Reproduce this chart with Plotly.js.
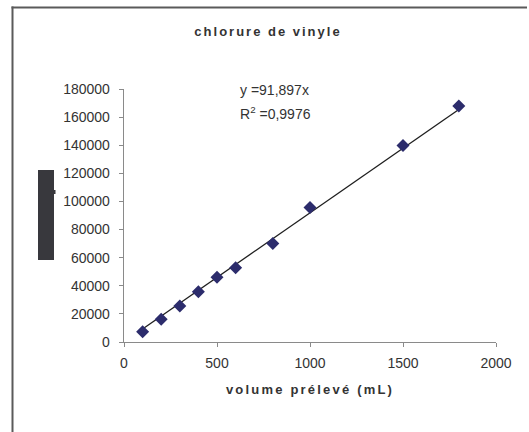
<!DOCTYPE html>
<html>
<head>
<meta charset="utf-8">
<script src="https://cdn.plot.ly/plotly-3.0.1.min.js"></script>
<style>
  html, body { margin: 0; padding: 0; background: #ffffff; overflow: hidden; }
  #chart { width: 529px; height: 432px; overflow: hidden; }
  /* spaced-out bold headings */
  .gtitle { letter-spacing: 2px; }
  .xtitle { letter-spacing: 2.2px; }
</style>
</head>
<body>
<div id="chart"></div>
<script>
// Sampled volumes (mL) and measured peak areas
const volumes = [100, 200, 300, 400, 500, 600, 800, 1000, 1500, 1800];
const areas = [7300, 16100, 25600, 35700, 46000, 52800, 70100, 95700, 139800, 167900];

// Linear fit through the origin
const slope = 91.897;
const r2 = 0.9976;
const fitX = [volumes[0], volumes[volumes.length - 1]];
const fitY = fitX.map(v => slope * v);

const chartTitle = 'chlorure de vinyle';
const xTitle = 'volume prélevé (mL)';
const xTicks = [0, 500, 1000, 1500, 2000];
const yTicks = [0, 20000, 40000, 60000, 80000, 100000, 120000, 140000, 160000, 180000];

const fmt = (n, d) => n.toFixed(d).replace('.', ',');

const W = 529, H = 432;
const M = { l: 124, r: 33, t: 89, b: 90 };
const PW = W - M.l - M.r, PH = H - M.t - M.b;
const px = x => (x - M.l) / PW;
const py = y => (H - M.b - y) / PH;

const traces = [
  {
    x: fitX, y: fitY, type: 'scatter', mode: 'lines',
    line: { color: '#1e1e1e', width: 1.3 },
    hoverinfo: 'skip', showlegend: false
  },
  {
    x: volumes, y: areas, type: 'scatter', mode: 'markers',
    marker: { symbol: 'diamond', size: 10, color: '#2c2c6c', line: { width: 0 } },
    showlegend: false
  }
];

const axisCommon = {
  showgrid: false, zeroline: false, showline: true,
  linecolor: '#8a8a8a', linewidth: 1.3,
  ticks: 'outside', ticklen: 4, tickwidth: 1, tickcolor: '#8a8a8a',
  tickfont: { family: 'Liberation Sans, Arial, sans-serif', size: 14, color: '#333333' },
  fixedrange: true
};

const frameLine = { color: '#5a5a5a', width: 2 };

const layout = {
  width: W, height: H,
  margin: M,
  paper_bgcolor: '#ffffff', plot_bgcolor: '#ffffff',
  showlegend: false,
  title: {
    text: '<b>' + chartTitle + '</b>',
    font: { family: 'Liberation Sans, Arial, sans-serif', size: 13, color: '#333333' },
    x: px(268), xanchor: 'center', xref: 'paper',
    y: 1 - 31 / H, yanchor: 'middle'
  },
  xaxis: Object.assign({}, axisCommon, {
    range: [0, 2000], tickvals: xTicks, ticktext: xTicks.map(String),
    ticklabelstandoff: 4,
    title: {
      text: '<b>' + xTitle + '</b>', standoff: 14,
      font: { family: 'Liberation Sans, Arial, sans-serif', size: 13, color: '#333333' }
    }
  }),
  yaxis: Object.assign({}, axisCommon, {
    range: [0, 180000], tickvals: yTicks, ticktext: yTicks.map(String),
    ticklabelstandoff: 6
  }),
  annotations: [
    {
      text: 'y =' + fmt(slope, 3) + 'x',
      xref: 'paper', yref: 'paper', x: px(238), y: py(90),
      xanchor: 'left', yanchor: 'middle', showarrow: false,
      font: { family: 'Liberation Sans, Arial, sans-serif', size: 14, color: '#333333' }
    },
    {
      text: 'R<sup>2</sup> =' + fmt(r2, 4),
      xref: 'paper', yref: 'paper', x: px(238), y: py(113),
      xanchor: 'left', yanchor: 'middle', showarrow: false,
      font: { family: 'Liberation Sans, Arial, sans-serif', size: 14, color: '#333333' }
    }
  ],
  shapes: [
    // chart area frame: top and left edges
    {
      type: 'line', xref: 'paper', yref: 'paper',
      x0: px(11.5), x1: px(527), y0: py(7.5), y1: py(7.5), line: frameLine
    },
    {
      type: 'line', xref: 'paper', yref: 'paper',
      x0: px(12.5), x1: px(12.5), y0: py(6.5), y1: py(432), line: frameLine
    },
    // masked axis title block
    {
      type: 'rect', xref: 'paper', yref: 'paper',
      x0: px(38), x1: px(54), y0: py(260), y1: py(170),
      line: { width: 0 }, fillcolor: '#38383d'
    },
    {
      type: 'rect', xref: 'paper', yref: 'paper',
      x0: px(54), x1: px(55.5), y0: py(194), y1: py(190),
      line: { width: 0 }, fillcolor: '#38383d'
    }
  ]
};

Plotly.newPlot('chart', traces, layout, { displayModeBar: false, staticPlot: true });
</script>
</body>
</html>
